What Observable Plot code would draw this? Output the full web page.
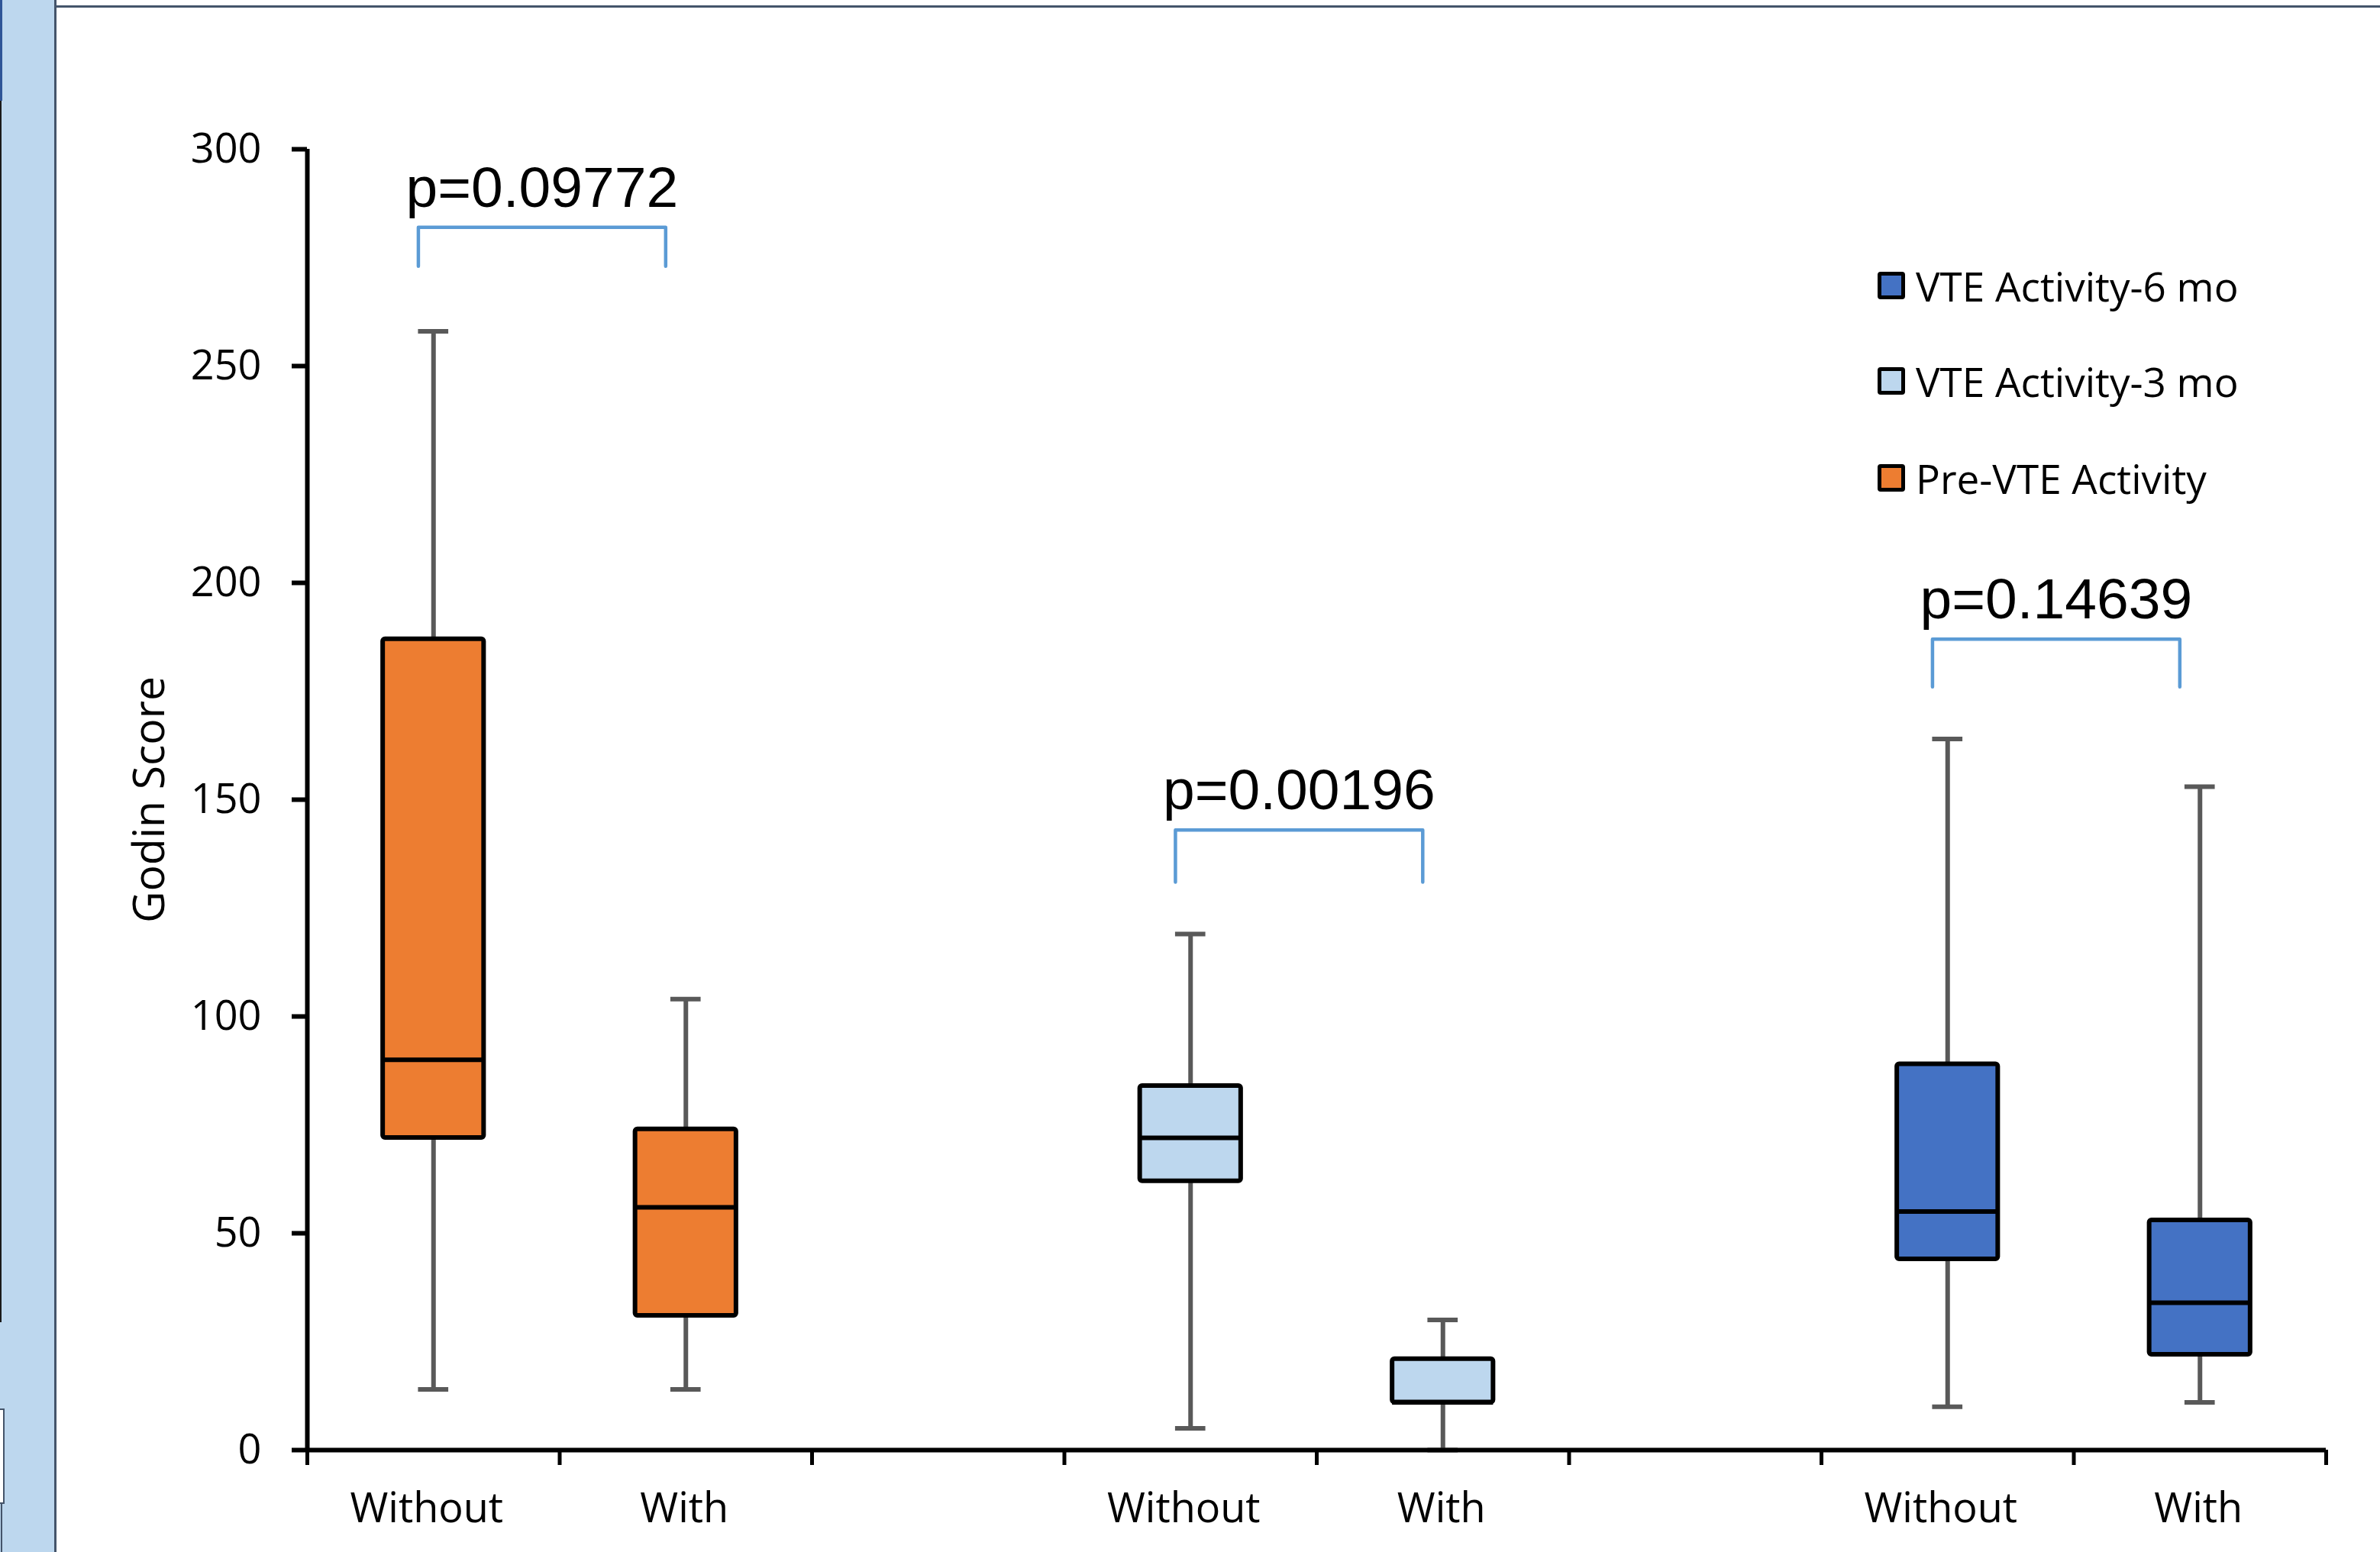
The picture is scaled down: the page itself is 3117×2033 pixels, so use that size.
<!DOCTYPE html>
<html>
<head>
<meta charset="utf-8">
<script src="https://cdn.jsdelivr.net/npm/d3@7"></script>
<script src="https://cdn.jsdelivr.net/npm/@observablehq/plot@0.6"></script>
<style>
  html, body { margin: 0; padding: 0; background: #fff; }
  #wrap { position: relative; width: 3117px; height: 2033px; overflow: hidden; background: #fff; }
  #wrap svg { position: absolute; left: 0; top: 0; }
  .deco { position: absolute; }
  .leg { position: absolute; left: 2459px; height: 80px; display: flex; align-items: center;
         font-family: 'Open Sans', sans-serif; font-size: 53px; color: #000; white-space: nowrap; }
  .sw { display: inline-block; width: 26px; height: 26px; border: 5px solid #000; border-radius: 4px; margin-right: 14px; }
</style>
</head>
<body>
<div id="wrap">
  <div class="deco" style="left:0;top:0;width:71px;height:2033px;background:#BDD7EE;"></div>
  <div class="deco" style="left:71px;top:0;width:3px;height:2033px;background:#44546A;"></div>
  <div class="deco" style="left:74px;top:7px;width:3043px;height:3px;background:#44546A;"></div>
  <div class="deco" style="left:0;top:0;width:3px;height:132px;background:#2F5597;"></div>
  <div class="deco" style="left:0;top:132px;width:2px;height:1600px;background:#1a1a1a;"></div>
  <div class="deco" style="left:0;top:1845px;width:4px;height:121px;background:#fff;border:2px solid #44546A;border-left:none;"></div>
  <div class="deco" style="left:1px;top:1968px;width:2px;height:65px;background:#44546A;"></div>
</div>
<script>
// ---- data ----
const groups = ["Pre-VTE Activity", "VTE Activity-3 mo", "VTE Activity-6 mo"];
const groupColors = ["#ED7D31", "#BDD7EE", "#4472C4"];
const conditions = ["Without", "With"];
const boxGroup = [0, 0, 1, 1, 2, 2];
const boxCondition = [0, 1, 0, 1, 0, 1];
const whiskerLow  = [14, 14, 5, 0, 10, 11];
const q1          = [72, 31, 62, 11, 44, 22];
const median      = [90, 56, 72, 11, 55, 34];
const q3          = [187, 74, 84, 21, 89, 53];
const whiskerHigh = [258, 104, 119, 30, 164, 153];
const pLabels = ["p=0.09772", "p=0.00196", "p=0.14639"];
const bracketTop = [282, 143, 187];
const bracketBottom = [273, 131, 176];
const yTicks = [0, 50, 100, 150, 200, 250, 300];
const legendOrder = [2, 1, 0];

// ---- layout helpers (category slots on a linear x: 3 slots per group, last one empty) ----
const slotsPerGroup = 3;
const nSlots = groups.length * slotsPerGroup - 1;
const slot = (g, c) => g * slotsPerGroup + c + 0.5;
const boxHalf = 0.2, capHalf = 0.06;

const rows = boxGroup.map((g, i) => {
  const x = slot(g, boxCondition[i]);
  return {
    x, xl: x - boxHalf, xr: x + boxHalf, cl: x - capHalf, cr: x + capHalf,
    lo: whiskerLow[i], q1: q1[i], med: median[i], q3: q3[i], hi: whiskerHigh[i],
    fill: groupColors[g]
  };
});

const centerLabel = new Map();
const centersBy = conditions.map(() => []);
groups.forEach((g, gi) => conditions.forEach((c, ci) => {
  const x = slot(gi, ci); centersBy[ci].push(x); centerLabel.set(x, c);
}));
const boundaries = d3.range(0, nSlots + 1);

const bracketPts = [];
const pText = [];
groups.forEach((g, gi) => {
  const xa = slot(gi, 0) - 0.06, xb = slot(gi, 1) - 0.08;
  bracketPts.push({k: gi, x: xa, y: bracketBottom[gi]}, {k: gi, x: xa, y: bracketTop[gi]},
                  {k: gi, x: xb, y: bracketTop[gi]}, {k: gi, x: xb, y: bracketBottom[gi]});
  pText.push({x: (xa + xb) / 2, y: bracketTop[gi], t: pLabels[gi]});
});

const labelShift = [-9, -2];

const chart = Plot.plot({
  width: 3117, height: 2033,
  marginLeft: 402, marginRight: 71, marginTop: 195, marginBottom: 134,
  style: {fontFamily: "'Open Sans', sans-serif", fontSize: "54px", background: "transparent", color: "#000"},
  x: {domain: [0, nSlots]},
  y: {domain: [0, 300]},
  marks: [
    Plot.ruleX(rows, {x: "x", y1: "lo", y2: "q1", stroke: "#595959", strokeWidth: 6}),
    Plot.ruleX(rows, {x: "x", y1: "q3", y2: "hi", stroke: "#595959", strokeWidth: 6}),
    Plot.ruleY(rows, {x1: "cl", x2: "cr", y: "lo", stroke: "#595959", strokeWidth: 6}),
    Plot.ruleY(rows, {x1: "cl", x2: "cr", y: "hi", stroke: "#595959", strokeWidth: 6}),
    Plot.rect(rows, {x1: "xl", x2: "xr", y1: "q1", y2: "q3", fill: "fill", stroke: "#000", strokeWidth: 6, rx: 3}),
    Plot.ruleY(rows, {x1: "xl", x2: "xr", y: "med", stroke: "#000", strokeWidth: 6}),
    Plot.ruleX([0], {stroke: "#000", strokeWidth: 6}),
    Plot.ruleY([0], {stroke: "#000", strokeWidth: 6}),
    Plot.axisY({ticks: yTicks, tickSize: 20, tickPadding: 40, strokeWidth: 6, fontSize: 54, label: null}),
    Plot.axisY({ticks: [], label: "Godin Score", labelAnchor: "center", labelOffset: 228, labelArrow: "none", fontSize: 57}),
    Plot.axisX({ticks: boundaries, tickSize: 20, strokeWidth: 5, tickFormat: () => "", label: null}),
    ...conditions.map((c, ci) => Plot.axisX({ticks: centersBy[ci], tickSize: 0, tickPadding: 56, fontSize: 54,
                dx: labelShift[ci], tickFormat: d => centerLabel.get(d), label: null})),
    Plot.line(bracketPts, {x: "x", y: "y", z: "k", stroke: "#5B9BD5", strokeWidth: 4.5, strokeLinejoin: "round"}),
    Plot.text(pText, {x: "x", y: "y", text: "t", dy: -27, lineAnchor: "bottom", textAnchor: "middle",
                      fontFamily: "'Liberation Sans', Arial, sans-serif", fontSize: 75, fill: "#000"})
  ]
});

const wrap = document.getElementById("wrap");
wrap.insertBefore(chart, wrap.firstChild);

// legend (HTML overlay)
const legCenters = [374, 499, 626];
legendOrder.forEach((gi, r) => {
  const d = document.createElement("div");
  d.className = "leg";
  d.style.top = (legCenters[r] - 40) + "px";
  const s = document.createElement("span");
  s.className = "sw";
  s.style.background = groupColors[gi];
  d.appendChild(s);
  d.appendChild(document.createTextNode(groups[gi]));
  wrap.appendChild(d);
});
</script>
</body>
</html>
